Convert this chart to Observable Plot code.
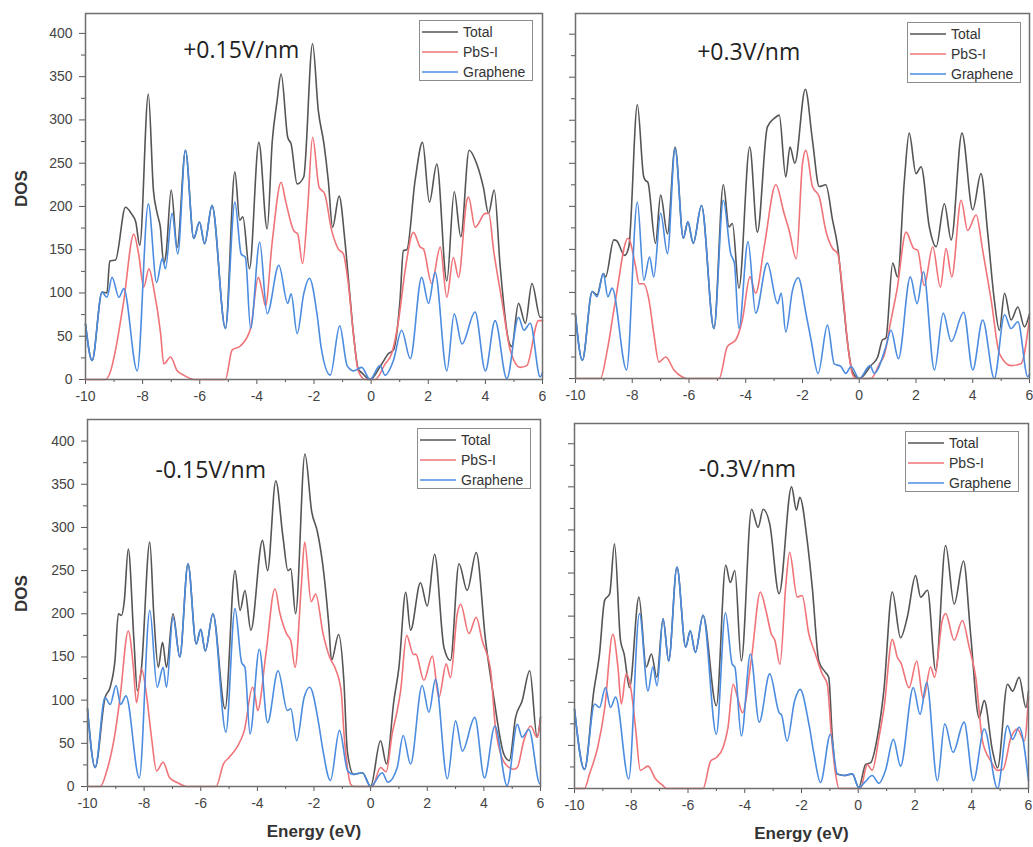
<!DOCTYPE html>
<html>
<head>
<meta charset="utf-8">
<script src="https://cdn.jsdelivr.net/npm/d3@7"></script>
<script src="https://cdn.jsdelivr.net/npm/@observablehq/plot@0.6"></script>
<style>
  html, body { margin: 0; padding: 0; background: #fff; }
  #chart { position: relative; width: 1033px; height: 847px; background: #fff; overflow: hidden; }
  #chart svg { position: absolute; }
  .legend { position: absolute; width: 114px; height: 61px; border: 1px solid #8c8c8c; background: #fff;
            font-family: "Liberation Sans", Arial, sans-serif; font-size: 14px; color: #333; box-sizing: border-box; }
  .legend .row { position: absolute; left: 2px; height: 20px; display: flex; align-items: center; }
  .legend .row span { margin-left: 5px; line-height: 20px; }
</style>
</head>
<body>
<div id="chart"></div>
<script>
// ---------- tick values ----------
const xTicks = [-10, -8, -6, -4, -2, 0, 2, 4, 6];
const xMinorTicks = [-9, -7, -5, -3, -1, 1, 3, 5];
const yTicks = [0, 50, 100, 150, 200, 250, 300, 350, 400];
const yMinorTicks = [25, 75, 125, 175, 225, 275, 325, 375];

// ---------- series names ----------
const seriesNames = ["Total", "PbS-I", "Graphene"];
const fieldLabels = ["+0.15V/nm", "+0.3V/nm", "-0.15V/nm", "-0.3V/nm"];

// ---------- +0.15 V/nm ----------
const p015Total = [[-10,64],[-9.77,22],[-9.42,101],[-9.25,100],[-9.15,137],[-8.95,138],[-8.6,199],[-8.4,192],[-8.24,182],[-8.1,155],[-7.8,330],[-7.62,218],[-7.49,192],[-7.38,176],[-7.26,134],[-7.18,145],[-7.0,219],[-6.79,153],[-6.5,265],[-6.21,163],[-6.01,182],[-5.83,157],[-5.57,201],[-5.1,59],[-4.77,240],[-4.6,184],[-4.49,188],[-4.26,128],[-3.93,274],[-3.64,174],[-3.46,276],[-3.3,320],[-3.15,353],[-2.92,280],[-2.8,272],[-2.59,226],[-2.36,234],[-2.05,388],[-1.85,311],[-1.65,272],[-1.5,230],[-1.35,176],[-1.12,212],[-0.92,161],[-0.78,111],[-0.62,53],[-0.45,12],[-0.33,8],[-0.04,0],[0.37,18],[0.61,30],[0.78,34],[1.01,91],[1.13,149],[1.25,150],[1.54,230],[1.8,274],[2.04,205],[2.3,249],[2.65,114],[2.91,217],[3.14,165],[3.43,265],[3.7,249],[3.93,222],[4.11,192],[4.31,219],[4.52,130],[4.81,45],[4.92,38],[5.16,88],[5.4,65],[5.63,111],[5.92,72],[6,72]];
const p015PbS = [[-10,0],[-9.3,0],[-9.1,12],[-8.95,34],[-8.66,91],[-8.31,168],[-8.14,145],[-7.96,107],[-7.78,128],[-7.6,103],[-7.37,53],[-7.26,18],[-7.02,26],[-6.79,10],[-6.56,5],[-6.32,1],[-6.2,0],[-5.1,0],[-4.87,34],[-4.57,39],[-4.22,59],[-3.95,118],[-3.82,103],[-3.7,85],[-3.46,160],[-3.15,228],[-3.0,207],[-2.71,172],[-2.57,168],[-2.4,134],[-2.22,199],[-2.05,280],[-1.82,222],[-1.63,215],[-1.38,172],[-1.15,151],[-0.97,145],[-0.8,111],[-0.62,53],[-0.45,10],[-0.2,0],[0.14,0],[0.49,18],[0.72,30],[0.96,68],[1.19,126],[1.48,170],[1.72,153],[1.83,151],[2.12,111],[2.42,153],[2.65,95],[2.88,141],[3.06,118],[3.35,207],[3.41,211],[3.64,176],[4.0,192],[4.12,192],[4.29,149],[4.58,91],[4.87,34],[5.22,14],[5.45,16],[5.86,68],[6,68]];
const p015Gr = [[-10,64],[-9.77,22],[-9.42,101],[-9.25,95],[-9.07,118],[-8.83,95],[-8.66,105],[-8.19,10],[-7.8,203],[-7.51,112],[-7.31,140],[-7.2,128],[-6.97,192],[-6.77,145],[-6.5,265],[-6.21,163],[-6.01,182],[-5.83,157],[-5.57,201],[-5.1,59],[-4.77,205],[-4.55,145],[-4.4,141],[-4.22,59],[-3.9,159],[-3.64,76],[-3.23,132],[-2.92,88],[-2.8,99],[-2.59,53],[-2.36,99],[-2.16,117],[-1.88,72],[-1.75,37],[-1.43,5],[-1.1,62],[-0.84,16],[-0.62,10],[-0.33,14],[-0.04,0],[0.31,16],[0.49,5],[0.78,22],[1.07,57],[1.37,24],[1.77,118],[2.01,88],[2.24,124],[2.65,10],[2.91,76],[3.18,41],[3.64,78],[4.0,10],[4.34,68],[4.75,1],[5.16,72],[5.35,57],[5.57,65],[5.92,3],[6,8]];

// ---------- +0.3 V/nm ----------
const p03Total = [[-10,74],[-9.76,21],[-9.41,101],[-9.24,97],[-9.02,122],[-8.94,118],[-8.65,161],[-8.55,160],[-8.27,143],[-8.12,153],[-7.82,318],[-7.6,235],[-7.53,230],[-7.45,228],[-7.18,157],[-7.0,213],[-6.76,168],[-6.49,269],[-6.2,163],[-6.04,182],[-5.85,157],[-5.56,201],[-5.12,58],[-4.79,225],[-4.59,176],[-4.47,180],[-4.24,105],[-3.86,269],[-3.59,170],[-3.24,292],[-3.0,302],[-2.82,306],[-2.59,234],[-2.44,269],[-2.27,250],[-1.9,336],[-1.65,277],[-1.41,223],[-1.18,225],[-0.94,184],[-0.76,153],[-0.59,99],[-0.41,41],[-0.24,8],[0,0],[0.41,15],[0.65,25],[0.82,45],[0.94,47],[1.18,134],[1.35,118],[1.59,230],[1.76,285],[2.0,238],[2.18,246],[2.47,176],[2.71,153],[3.0,203],[3.24,161],[3.62,285],[4.0,196],[4.29,238],[4.53,168],[4.76,91],[4.94,56],[5.12,99],[5.35,68],[5.59,83],[5.82,60],[6,75]];
const p03PbS = [[-10,0],[-9.12,0],[-8.88,33],[-8.59,91],[-8.15,163],[-7.88,130],[-7.76,110],[-7.6,110],[-7.41,91],[-7.24,52],[-7.06,19],[-6.82,25],[-6.53,10],[-6.25,2],[-6.1,0],[-4.94,0],[-4.65,37],[-4.35,45],[-4.12,68],[-3.85,118],[-3.65,99],[-3.35,153],[-2.94,225],[-2.65,192],[-2.47,172],[-2.22,139],[-2.0,250],[-1.88,265],[-1.65,223],[-1.41,211],[-1.18,172],[-0.94,151],[-0.76,145],[-0.59,103],[-0.41,41],[-0.24,5],[-0.1,0],[0.41,0],[0.71,17],[0.88,27],[1.12,68],[1.33,103],[1.65,170],[1.92,151],[2.06,149],[2.29,108],[2.59,153],[2.86,106],[3.06,151],[3.26,118],[3.59,207],[3.82,172],[4.12,190],[4.35,149],[4.65,91],[4.94,29],[5.35,15],[5.7,17],[6,70]];
const p03Gr = [[-10,74],[-9.76,21],[-9.41,101],[-9.24,95],[-9.02,122],[-8.86,95],[-8.71,105],[-8.2,10],[-7.82,205],[-7.59,114],[-7.39,141],[-7.24,118],[-7.0,192],[-6.76,145],[-6.49,267],[-6.2,163],[-6.04,182],[-5.85,157],[-5.56,201],[-5.12,58],[-4.79,207],[-4.53,145],[-4.4,134],[-4.24,58],[-3.92,159],[-3.65,76],[-3.24,134],[-2.88,87],[-2.75,99],[-2.59,54],[-2.35,103],[-2.15,117],[-1.88,76],[-1.7,45],[-1.45,6],[-1.12,62],[-0.88,17],[-0.65,14],[-0.47,6],[-0.29,14],[0,0],[0.38,15],[0.53,6],[0.94,37],[1.12,56],[1.38,23],[1.8,118],[2.04,87],[2.26,124],[2.65,10],[2.96,76],[3.24,43],[3.68,77],[4.0,10],[4.35,68],[4.76,0],[5.12,74],[5.35,58],[5.59,66],[5.94,2],[6,5]];

// ---------- -0.15 V/nm ----------
const m015Total = [[-10,90],[-9.73,22],[-9.38,103],[-9.2,115],[-9.03,146],[-8.91,200],[-8.8,198],[-8.7,215],[-8.56,275],[-8.36,169],[-8.24,111],[-8.1,135],[-7.8,283],[-7.66,200],[-7.5,138],[-7.35,167],[-7.21,138],[-6.98,200],[-6.74,150],[-6.45,258],[-6.16,165],[-6.0,182],[-5.84,157],[-5.57,200],[-5.14,90],[-4.79,250],[-4.61,204],[-4.44,227],[-4.23,181],[-3.82,285],[-3.64,250],[-3.35,354],[-3.1,290],[-2.92,250],[-2.82,252],[-2.65,200],[-2.32,385],[-2.08,318],[-1.88,295],[-1.65,246],[-1.48,188],[-1.38,146],[-1.13,176],[-0.95,125],[-0.82,40],[-0.6,14],[-0.29,16],[0,0],[0.35,53],[0.56,26],[0.82,99],[1.0,138],[1.24,225],[1.41,181],[1.76,236],[2.0,209],[2.26,269],[2.59,161],[2.82,146],[3.12,258],[3.41,227],[3.73,271],[4.06,169],[4.35,103],[4.71,37],[4.9,30],[5.12,80],[5.35,99],[5.62,134],[5.88,57],[6,80]];
const m015PbS = [[-10,0],[-9.55,0],[-9.32,18],[-9.03,61],[-8.85,103],[-8.56,180],[-8.38,138],[-8.27,97],[-8.09,136],[-7.92,107],[-7.74,57],[-7.56,18],[-7.33,28],[-7.1,10],[-6.8,4],[-6.5,0],[-5.46,0],[-5.2,26],[-4.99,34],[-4.73,45],[-4.46,65],[-4.17,115],[-4.08,105],[-3.99,88],[-3.7,153],[-3.38,229],[-3.2,200],[-2.97,177],[-2.82,169],[-2.67,138],[-2.45,231],[-2.33,283],[-2.1,214],[-1.94,223],[-1.68,177],[-1.45,150],[-1.24,136],[-1.04,110],[-0.94,61],[-0.82,22],[-0.71,3],[-0.6,0],[0.06,0],[0.35,22],[0.55,17],[0.76,61],[0.94,88],[1.06,111],[1.27,175],[1.51,153],[1.6,153],[1.88,123],[2.18,151],[2.41,103],[2.67,142],[2.82,126],[3.06,200],[3.18,211],[3.47,177],[3.73,196],[3.94,169],[4.24,134],[4.41,68],[4.76,26],[5.06,20],[5.18,22],[5.41,53],[5.65,70],[5.88,57],[6,76]];
const m015Gr = [[-10,90],[-9.73,22],[-9.38,103],[-9.2,95],[-8.99,117],[-8.83,95],[-8.64,105],[-8.17,10],[-7.8,204],[-7.54,115],[-7.33,138],[-7.21,115],[-6.98,196],[-6.74,150],[-6.45,258],[-6.16,165],[-6.0,182],[-5.84,157],[-5.57,200],[-5.11,63],[-4.79,206],[-4.56,144],[-4.44,138],[-4.26,61],[-3.93,159],[-3.64,74],[-3.27,134],[-2.94,88],[-2.82,90],[-2.61,53],[-2.35,103],[-2.15,115],[-1.83,72],[-1.7,45],[-1.42,7],[-1.1,65],[-0.81,18],[-0.6,14],[-0.29,16],[0,0],[0.41,16],[0.61,5],[0.94,22],[1.15,59],[1.41,26],[1.82,117],[2.06,86],[2.29,124],[2.71,9],[3.0,76],[3.24,41],[3.68,80],[4.02,10],[4.39,70],[4.82,1],[5.18,72],[5.35,57],[5.59,66],[5.98,3],[6,3]];

// ---------- -0.3 V/nm ----------
const m03Total = [[-10,92],[-9.65,22],[-9.32,113],[-9.12,156],[-8.94,218],[-8.76,226],[-8.59,284],[-8.38,172],[-8.25,156],[-8.06,117],[-7.73,222],[-7.47,141],[-7.29,156],[-7.1,129],[-6.88,197],[-6.68,148],[-6.39,257],[-6.08,164],[-5.92,183],[-5.74,158],[-5.47,201],[-5.0,96],[-4.67,259],[-4.51,239],[-4.35,253],[-4.12,148],[-3.76,324],[-3.53,303],[-3.35,324],[-3.12,307],[-2.79,226],[-2.35,350],[-2.18,323],[-2.06,338],[-1.8,288],[-1.62,233],[-1.39,148],[-1.21,137],[-1.04,129],[-0.92,63],[-0.76,17],[-0.5,15],[-0.21,17],[0.02,1],[0.26,28],[0.44,30],[0.67,59],[0.9,113],[1.2,228],[1.49,175],[1.73,199],[2.02,247],[2.2,222],[2.44,230],[2.73,137],[3.08,282],[3.38,214],[3.71,264],[3.96,179],[4.26,82],[4.44,102],[4.73,44],[4.91,24],[5.26,121],[5.44,113],[5.67,129],[5.91,94],[6,113]];
const m03PbS = [[-10,0],[-9.65,0],[-9.47,17],[-9.18,48],[-8.94,92],[-8.65,179],[-8.47,141],[-8.35,98],[-8.18,133],[-8.0,113],[-7.85,71],[-7.68,21],[-7.41,26],[-7.14,11],[-6.9,4],[-6.76,0],[-5.47,0],[-5.2,32],[-5.0,36],[-4.76,48],[-4.59,71],[-4.41,121],[-4.25,105],[-4.08,88],[-3.76,152],[-3.45,228],[-3.25,206],[-3.06,179],[-2.94,172],[-2.76,144],[-2.55,237],[-2.42,274],[-2.15,222],[-1.98,224],[-1.74,179],[-1.51,156],[-1.27,133],[-1.09,121],[-0.95,63],[-0.8,17],[-0.68,0],[0.08,0],[0.32,28],[0.49,21],[0.73,59],[0.91,94],[1.2,173],[1.38,152],[1.5,146],[1.79,117],[2.06,148],[2.29,104],[2.55,141],[2.69,129],[2.96,195],[3.08,203],[3.38,172],[3.67,195],[3.91,164],[4.14,129],[4.38,55],[4.67,32],[4.91,21],[5.1,22],[5.38,59],[5.61,69],[5.85,55],[6,106]];
const m03Gr = [[-10,92],[-9.65,22],[-9.29,98],[-9.12,94],[-8.91,117],[-8.73,94],[-8.55,106],[-8.09,11],[-7.71,203],[-7.41,113],[-7.24,141],[-7.09,119],[-6.88,197],[-6.68,148],[-6.39,257],[-6.08,164],[-5.92,183],[-5.74,158],[-5.47,201],[-5.0,63],[-4.68,204],[-4.44,144],[-4.35,141],[-4.12,61],[-3.8,156],[-3.49,77],[-3.12,133],[-2.79,88],[-2.7,85],[-2.51,55],[-2.24,102],[-2.05,115],[-1.74,75],[-1.56,40],[-1.33,7],[-0.98,63],[-0.74,17],[-0.5,15],[-0.21,17],[0.02,1],[0.25,8],[0.49,15],[0.73,6],[0.96,21],[1.24,57],[1.49,26],[1.94,117],[2.18,86],[2.41,123],[2.79,9],[3.05,75],[3.34,42],[3.73,77],[4.06,9],[4.44,69],[4.91,0],[5.26,73],[5.44,57],[5.67,71],[6,9]];

// ---------- styling / layout (not data) ----------
const colors = ["#555555", "#f07378", "#4b8ce0"];
const panels = [
  {series: [p015Total, p015PbS, p015Gr], label: fieldLabels[0], left: 0, top: 0, w: 550, h: 400,
   mL: 85, mR: 8, mT: 13, mB: 21, ymax: 423, ann: [97.7, 44.7], yLabels: true, xTitle: false, legend: [419, 20]},
  {series: [p03Total, p03PbS, p03Gr], label: fieldLabels[1], left: 550, top: 0, w: 483, h: 400,
   mL: 25, mR: 4, mT: 13, mB: 22, ymax: 424, ann: [121.7, 46.3], yLabels: false, xTitle: false, legend: [907, 22]},
  {series: [m015Total, m015PbS, m015Gr], label: fieldLabels[2], left: 0, top: 400, w: 550, h: 447,
   mL: 87, mR: 10, mT: 19, mB: 61, ymax: 425, ann: [68, 58.3], yLabels: true, xTitle: true, legend: [417, 428]},
  {series: [m03Total, m03PbS, m03Gr], label: fieldLabels[3], left: 550, top: 400, w: 483, h: 447,
   mL: 24, mR: 5, mT: 23, mB: 59, ymax: 423.5, ann: [124.3, 53.7], yLabels: false, xTitle: true, legend: [905, 431]}
];

const chart = document.getElementById("chart");
const fmt = d => String(d);
const blank = () => "";

for (const p of panels) {
  const marks = [
    Plot.axisX({ticks: xMinorTicks, tickSize: 3, tickFormat: blank, label: null, stroke: "#555"}),
    Plot.axisX({ticks: xTicks, tickSize: 5, tickPadding: 7, tickFormat: fmt, label: null, stroke: "#555",
                fill: "#444", fontSize: 14}),
    Plot.axisY({ticks: yMinorTicks, tickSize: 4, tickFormat: blank, label: null, stroke: "#555"}),
    Plot.axisY({ticks: yTicks, tickSize: 6, tickPadding: 7, tickFormat: p.yLabels ? fmt : blank, label: null,
                stroke: "#555", fill: "#444", fontSize: 14}),
  ];
  p.series.forEach((s, i) => {
    marks.push(Plot.line(s, {x: d => d[0], y: d => d[1], stroke: colors[i], strokeWidth: 1.6, curve: "monotone-x"}));
  });
  marks.push(Plot.frame({stroke: "#6e6e6e", strokeWidth: 1.5}));
  marks.push(Plot.text([p.label], {text: d => d, frameAnchor: "top-left", dx: p.ann[0], dy: p.ann[1],
    textAnchor: "start", lineAnchor: "bottom", fontSize: 23, fontFamily: "Open Sans, sans-serif", fill: "#222"}));
  if (p.yLabels) {
    const frameMidY = p.mT + (p.h - p.mT - p.mB) / 2;
    const targetY = p.top === 0 ? 188 : 593 - p.top;
    marks.push(Plot.text(["DOS"], {text: d => d, frameAnchor: "left", rotate: -90, dx: 21 - p.mL, dy: targetY - frameMidY,
      fontSize: 17, fontWeight: "bold", fill: "#333", textAnchor: "middle", lineAnchor: "middle",
      fontFamily: "Liberation Sans, Arial, sans-serif"}));
  }
  if (p.xTitle) {
    marks.push(Plot.text(["Energy (eV)"], {text: d => d, frameAnchor: "bottom", dy: 45,
      fontSize: 17, fontWeight: "bold", fill: "#333", lineAnchor: "middle",
      fontFamily: "Liberation Sans, Arial, sans-serif"}));
  }
  const svg = Plot.plot({
    width: p.w, height: p.h,
    marginLeft: p.mL, marginRight: p.mR, marginTop: p.mT, marginBottom: p.mB,
    x: {domain: [-10, 6]},
    y: {domain: [0, p.ymax]},
    style: {fontFamily: "Liberation Sans, Arial, sans-serif", fontSize: "14px", color: "#444", background: "transparent", overflow: "visible"},
    marks
  });
  svg.style.left = p.left + "px";
  svg.style.top = p.top + "px";
  chart.appendChild(svg);

  // legend (HTML overlay)
  const lg = document.createElement("div");
  lg.className = "legend";
  lg.style.left = p.legend[0] + "px";
  lg.style.top = p.legend[1] + "px";
  seriesNames.forEach((name, i) => {
    const row = document.createElement("div");
    row.className = "row";
    row.style.top = (1 + i * 20) + "px";
    row.innerHTML = `<svg width="36" height="4" style="position:static"><line x1="0" x2="36" y1="2" y2="2" stroke="${colors[i]}" stroke-width="1.6"/></svg><span>${name}</span>`;
    lg.appendChild(row);
  });
  chart.appendChild(lg);
}
</script>
</body>
</html>
